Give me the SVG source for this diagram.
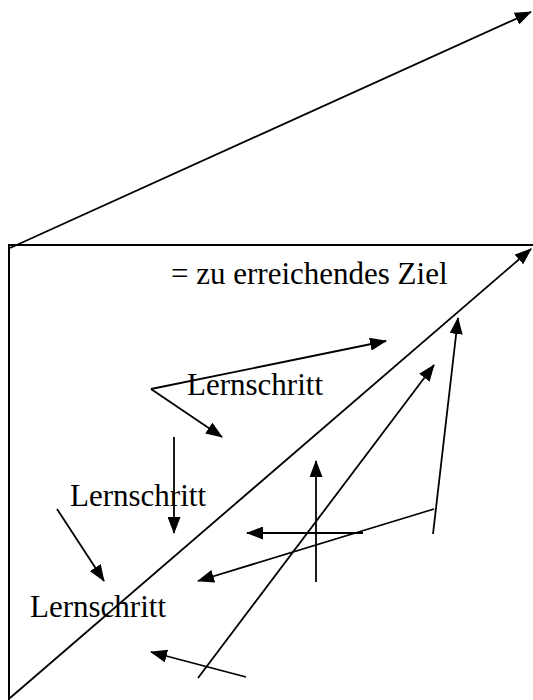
<svg xmlns="http://www.w3.org/2000/svg" width="533" height="700" viewBox="0 0 533 700">
<style>
.t{font-family:"Liberation Serif","Times New Roman",serif;font-size:31px;fill:#000}
.l{stroke:#000;stroke-width:2;fill:none}
.a{stroke:#000;stroke-width:1.8;fill:none;marker-end:url(#ah)}
</style>
<defs>
<marker id="ah" markerUnits="userSpaceOnUse" markerWidth="17" markerHeight="13" refX="16" refY="6.5" orient="auto">
<path d="M0,0 L17,6.5 L0,13 z" fill="#000"/>
</marker>
</defs>
<rect width="533" height="700" fill="#fff"/>
<g id="frame">
<path class="l" d="M9,700 L9,245 L533,245"/>
</g>
<g id="labels">
<text class="t" x="171" y="284">= zu erreichendes Ziel</text>
<text class="t" x="187" y="395">Lernschritt</text>
<text class="t" x="70" y="506">Lernschritt</text>
<text class="t" x="30" y="617">Lernschritt</text>
</g>
<g id="connectors">
<line class="a" x1="10" y1="248" x2="531" y2="12"/>
<line class="a" x1="10" y1="698" x2="531" y2="249"/>
<line class="a" x1="151" y1="389" x2="386" y2="341"/>
<line class="a" x1="151" y1="389" x2="222" y2="437"/>
<line class="a" x1="174" y1="437" x2="174" y2="533"/>
<line class="a" x1="57" y1="509" x2="104" y2="581"/>
<line class="a" x1="363" y1="533" x2="247" y2="533"/>
<line class="a" x1="316" y1="582" x2="316" y2="461"/>
<line class="a" x1="434" y1="509" x2="198" y2="581"/>
<line class="a" x1="433" y1="534" x2="458" y2="318"/>
<line class="a" x1="198" y1="678" x2="434" y2="365"/>
<line class="a" x1="246" y1="677" x2="151" y2="652"/>
</g>
</svg>
